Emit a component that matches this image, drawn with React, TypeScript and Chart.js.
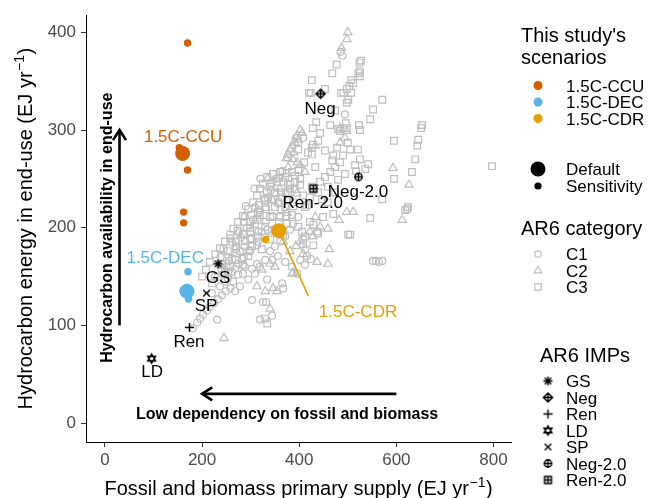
import React, { useEffect, useRef } from "react";
import { Chart, registerables } from "chart.js";

Chart.register(...registerables);

const FONT = '"Liberation Sans", Arial, Helvetica, sans-serif';
const GREY = "#BEBEBE";
const COL_CCU = "#D55E00";
const COL_DEC = "#56B4E9";
const COL_CDR = "#E69F00";

// Axes
const xTicks = [0, 200, 400, 600, 800];
const yTicks = [0, 100, 200, 300, 400];
const xRange = [-39, 836];
const yRange = [-19.3, 417.5];

// AR6 scenarios (x: fossil+biomass primary supply, y: hydrocarbon energy in end-use)
const c1: number[][] = [
  [181, 97], [190, 103], [196, 107], [202, 111], [210, 115], [216, 119], [225, 123], [233, 127], [241, 131], [249, 135],
  [258, 138], [231, 106], [253, 148], [264, 145], [274, 152], [284, 153], [303, 158], [288, 160], [313, 163], [334, 147],
  [365, 143], [367, 138], [344, 167], [303, 126], [325, 124], [332, 124], [319, 106], [344, 110], [412, 178], [416, 171],
  [412, 162], [424, 168], [552, 166], [558, 166], [564, 165], [571, 166], [485, 380], [489, 376], [494, 316], [247, 145],
  [262, 155], [274, 163], [286, 170], [299, 176], [237, 140], [220, 133], [268, 135], [278, 140], [295, 147], [309, 153],
  [319, 160], [330, 167], [340, 176], [350, 181], [361, 186], [371, 191], [381, 198], [387, 204], [398, 211], [315, 186],
  [323, 196], [299, 188], [356, 171], [371, 165], [385, 160], [402, 167], [396, 153], [309, 221], [288, 211], [398, 287],
  [393, 292], [408, 292], [255, 170], [270, 178], [280, 190], [292, 200], [305, 208], [318, 218], [330, 230], [342, 238],
  [262, 185], [276, 195], [290, 222], [352, 250], [365, 258], [345, 212], [358, 225], [372, 235], [382, 245], [308, 240],
  [320, 250], [335, 198], [226, 150], [240, 158], [250, 160], [242, 152], [256, 166], [271, 174], [287, 181], [302, 189],
  [316, 196], [331, 206], [346, 211], [361, 219], [376, 229], [392, 239], [238, 170], [268, 158], [283, 168], [297, 177],
  [313, 182],
];
const c2: number[][] = [
  [500, 400], [498, 393], [487, 384], [396, 294], [406, 297], [398, 290], [402, 300], [391, 287], [385, 284], [381, 280],
  [377, 275], [373, 271], [389, 277], [387, 270], [396, 267], [377, 262], [402, 264], [412, 257], [433, 284], [484, 287],
  [494, 292], [498, 299], [484, 302], [593, 261], [626, 244], [612, 208], [498, 216], [511, 216], [482, 208], [459, 199],
  [462, 178], [437, 165], [459, 163], [387, 154], [346, 138], [354, 135], [340, 117], [245, 87], [428, 191], [408, 173],
  [367, 186], [402, 186], [422, 196], [393, 181], [381, 176], [433, 211], [443, 201], [350, 160], [340, 163], [323, 157],
  [313, 140], [330, 135], [385, 153], [360, 240], [345, 228], [375, 215], [335, 250], [395, 235],
];
const c3: number[][] = [
  [477, 367], [468, 358], [524, 369], [527, 371], [522, 358], [525, 355], [426, 351], [453, 342], [507, 351], [511, 348],
  [503, 345], [498, 342], [491, 338], [486, 338], [507, 338], [501, 331], [498, 328], [571, 331], [552, 321], [546, 311],
  [420, 338], [424, 338], [474, 320], [496, 307], [491, 302], [498, 302], [480, 301], [464, 305], [428, 302], [523, 305],
  [525, 300], [484, 299], [525, 360], [428, 285], [453, 279], [478, 282], [470, 274], [505, 280], [500, 287], [521, 280],
  [525, 270], [542, 265], [536, 260], [517, 258], [595, 289], [645, 290], [643, 284], [639, 270], [632, 257], [653, 305],
  [651, 302], [595, 250], [624, 221], [618, 218], [622, 219], [797, 263], [546, 210], [501, 193], [505, 193], [490, 274],
  [515, 264], [571, 229], [426, 275], [433, 262], [468, 269], [408, 233], [416, 223], [447, 229], [459, 226], [474, 236],
  [449, 211], [470, 214], [422, 206], [429, 203], [437, 196], [439, 194], [412, 191], [408, 188], [402, 250], [402, 244],
  [408, 183], [429, 182], [330, 107], [334, 102], [346, 255], [334, 252], [325, 245], [319, 240], [313, 233], [305, 226],
  [295, 219], [284, 212], [274, 206], [264, 199], [258, 193], [247, 186], [237, 179], [227, 173], [216, 165], [208, 157],
  [200, 150], [367, 247], [381, 240], [387, 226], [385, 213], [375, 204], [367, 193], [377, 272], [398, 280], [361, 257],
  [371, 252], [354, 247], [340, 242], [350, 236], [365, 231], [336, 231], [330, 221], [350, 221], [371, 221], [319, 213],
  [340, 211], [361, 211], [309, 204], [330, 201], [350, 198], [299, 196], [315, 191], [340, 188], [288, 186], [303, 181],
  [323, 178], [278, 176], [295, 171], [268, 167], [284, 162], [258, 160], [247, 155], [262, 168], [233, 150], [220, 143],
  [241, 163], [253, 176], [270, 181], [286, 194], [299, 206], [315, 216], [328, 228], [356, 226], [377, 236], [391, 247],
  [385, 257], [398, 259], [410, 267], [418, 277], [426, 282], [439, 289], [443, 297], [435, 308], [443, 247], [453, 252],
  [464, 257], [474, 262], [484, 267], [439, 236], [422, 231], [459, 242], [480, 249], [494, 255], [426, 242], [412, 221],
  [398, 201], [406, 196], [241, 162], [244, 178], [254, 153], [258, 189], [269, 186], [273, 197], [284, 193], [286, 206],
  [299, 200], [301, 213], [314, 208], [317, 223], [329, 190], [332, 219], [333, 236], [344, 197], [347, 229], [343, 246],
  [358, 206], [362, 236], [359, 251], [373, 212], [377, 244], [374, 256], [388, 222], [391, 253],
];

// This study's scenarios
const ccuDefault = [[160, 276]];
const ccuSens = [[170, 389], [153, 282], [170, 259], [162, 216], [162, 205]];
const decDefault = [[169, 135]];
const decSens = [[171, 155], [161, 136], [172, 127]];
const cdrDefault = [[358, 197]];
const cdrSens = [[331, 188]];
const cdrLeader = [[358, 197], [419, 130]];

// Scenario labels
const noteText = ["1.5C-CCU", "1.5C-DEC", "1.5C-CDR"];
const noteX = [161, 124, 521];
const noteY = [294, 170, 115];
const noteColor = [COL_CCU, COL_DEC, COL_CDR];

// AR6 IMPs
const impNames = ["GS", "Neg", "Ren", "LD", "SP", "Neg-2.0", "Ren-2.0"];
const impShapes = ["asterisk", "diamondplus", "plus", "star", "cross", "circleplus", "squareplus"];
const impX = [233, 444, 174, 96, 209, 522, 429];
const impY = [163, 337, 98, 66, 133, 252, 240];
const impLabelX = [233, 443, 173, 97, 208, 521, 428];
const impLabelY = [150, 323, 84, 53, 121, 238, 226];

// Arrows and bold notes
const vArrowX = [30, 30];
const vArrowY = [100, 300];
const hArrowX = [600, 200];
const hArrowY = [30, 30];
const vNote = "Hydrocarbon availability in end-use";
const vNotePos = [3, 200];
const hNote = "Low dependency on fossil and biomass";
const hNotePos = [375, 10];

const xTitle = ["Fossil and biomass primary supply (EJ yr", "\u22121", ")"];
const yTitle = ["Hydrocarbon energy in end-use (EJ yr", "\u22121", ")"];

const scenLegend = ["1.5C-CCU", "1.5C-DEC", "1.5C-CDR"];
const catLegend = ["C1", "C2", "C3"];

function pts(a: number[][]) {
  return a.map((p) => ({ x: p[0], y: p[1] }));
}

function makeShape(kind: string): HTMLCanvasElement {
  const S = 13;
  const c = document.createElement("canvas");
  c.width = S;
  c.height = S;
  const g = c.getContext("2d")!;
  g.strokeStyle = "#000";
  g.lineWidth = 1.4;
  const m = S / 2;
  const r = 4.6;
  g.beginPath();
  if (kind === "asterisk") {
    for (let k = 0; k < 4; k++) {
      const a = (k * Math.PI) / 4;
      g.moveTo(m + r * Math.cos(a), m + r * Math.sin(a));
      g.lineTo(m - r * Math.cos(a), m - r * Math.sin(a));
    }
  } else if (kind === "plus") {
    g.moveTo(m - r, m);
    g.lineTo(m + r, m);
    g.moveTo(m, m - r);
    g.lineTo(m, m + r);
  } else if (kind === "cross") {
    const d = r * 0.72;
    g.moveTo(m - d, m - d);
    g.lineTo(m + d, m + d);
    g.moveTo(m - d, m + d);
    g.lineTo(m + d, m - d);
  } else if (kind === "diamondplus") {
    g.moveTo(m, m - r);
    g.lineTo(m + r, m);
    g.lineTo(m, m + r);
    g.lineTo(m - r, m);
    g.closePath();
    g.moveTo(m - r, m);
    g.lineTo(m + r, m);
    g.moveTo(m, m - r);
    g.lineTo(m, m + r);
  } else if (kind === "circleplus") {
    const q = r * 0.8;
    g.arc(m, m, q, 0, 2 * Math.PI);
    g.moveTo(m - q, m);
    g.lineTo(m + q, m);
    g.moveTo(m, m - q);
    g.lineTo(m, m + q);
  } else if (kind === "squareplus") {
    const q = r * 0.75;
    g.rect(m - q, m - q, 2 * q, 2 * q);
    g.moveTo(m - q, m);
    g.lineTo(m + q, m);
    g.moveTo(m, m - q);
    g.lineTo(m, m + q);
  } else if (kind === "star") {
    const h = r * 0.866;
    g.moveTo(m, m - r);
    g.lineTo(m + h, m + r * 0.5);
    g.lineTo(m - h, m + r * 0.5);
    g.closePath();
    g.moveTo(m, m + r);
    g.lineTo(m + h, m - r * 0.5);
    g.lineTo(m - h, m - r * 0.5);
    g.closePath();
  }
  g.stroke();
  return c;
}

function txt(
  ctx: CanvasRenderingContext2D,
  s: string,
  x: number,
  cy: number,
  size: number,
  color = "#000",
  align: CanvasTextAlign = "left",
  weight = ""
) {
  ctx.font = `${weight}${size}px ${FONT}`;
  ctx.fillStyle = color;
  ctx.textAlign = align;
  ctx.textBaseline = "alphabetic";
  ctx.fillText(s, x, cy + size * 0.36);
}

function supTitle(ctx: CanvasRenderingContext2D, parts: string[], cx: number, cy: number, rotate: boolean) {
  const big = `20px ${FONT}`;
  const small = `14px ${FONT}`;
  ctx.save();
  ctx.fillStyle = "#000";
  ctx.textBaseline = "alphabetic";
  ctx.textAlign = "left";
  ctx.font = big;
  const w1 = ctx.measureText(parts[0]).width;
  const w3 = ctx.measureText(parts[2]).width;
  ctx.font = small;
  const w2 = ctx.measureText(parts[1]).width;
  const total = w1 + w2 + w3 + 1;
  ctx.translate(cx, cy);
  if (rotate) ctx.rotate(-Math.PI / 2);
  const x0 = -total / 2;
  ctx.font = big;
  ctx.fillText(parts[0], x0, 7);
  ctx.font = small;
  ctx.fillText(parts[1], x0 + w1 + 0.5, -1);
  ctx.font = big;
  ctx.fillText(parts[2], x0 + w1 + w2 + 1, 7);
  ctx.restore();
}

function arrow(ctx: CanvasRenderingContext2D, x1: number, y1: number, x2: number, y2: number) {
  const a = Math.atan2(y2 - y1, x2 - x1);
  const L = 12;
  const sp = Math.PI / 5.5;
  ctx.beginPath();
  ctx.moveTo(x1, y1);
  ctx.lineTo(x2, y2);
  ctx.stroke();
  ctx.beginPath();
  ctx.moveTo(x2 - L * Math.cos(a - sp), y2 - L * Math.sin(a - sp));
  ctx.lineTo(x2, y2);
  ctx.lineTo(x2 - L * Math.cos(a + sp), y2 - L * Math.sin(a + sp));
  ctx.stroke();
}

export default function App() {
  const ref = useRef<HTMLCanvasElement>(null);

  useEffect(() => {
    const canvas = ref.current!;
    const shapes = impShapes.map((s) => makeShape(s));

    const overlay = {
      id: "overlay",
      afterDatasetsDraw(chart: any) {
        const ctx: CanvasRenderingContext2D = chart.ctx;
        const xs = chart.scales.x;
        const ys = chart.scales.y;
        const px = (v: number) => xs.getPixelForValue(v);
        const py = (v: number) => ys.getPixelForValue(v);
        ctx.save();
        ctx.strokeStyle = "#000";
        ctx.lineWidth = 2.6;
        ctx.lineCap = "butt";
        ctx.lineJoin = "miter";
        arrow(ctx, px(vArrowX[0]), py(vArrowY[0]), px(vArrowX[1]), py(vArrowY[1]));
        arrow(ctx, px(hArrowX[0]), py(hArrowY[0]), px(hArrowX[1]), py(hArrowY[1]));
        txt(ctx, hNote, px(hNotePos[0]), py(hNotePos[1]), 16, "#000", "center", "bold ");
        ctx.save();
        ctx.translate(px(vNotePos[0]), py(vNotePos[1]));
        ctx.rotate(-Math.PI / 2);
        txt(ctx, vNote, 0, 0, 16, "#000", "center", "bold ");
        ctx.restore();
        for (let i = 0; i < noteText.length; i++) {
          txt(ctx, noteText[i], px(noteX[i]), py(noteY[i]), 17, noteColor[i], "center");
        }
        for (let i = 0; i < impNames.length; i++) {
          txt(ctx, impNames[i], px(impLabelX[i]), py(impLabelY[i]), 17, "#000", "center");
        }
        ctx.restore();
      },
      afterDraw(chart: any) {
        const ctx: CanvasRenderingContext2D = chart.ctx;
        const area = chart.chartArea;
        ctx.save();
        supTitle(ctx, xTitle, (area.left + area.right) / 2, 488, false);
        supTitle(ctx, yTitle, 25, (area.top + area.bottom) / 2, true);

        const lx = 521;
        const kx = 538;
        const tx = 566;
        txt(ctx, "This study's", lx, 35, 20);
        txt(ctx, "scenarios", lx, 57, 20);
        const scY = [85.5, 102, 118.5];
        const scC = [COL_CCU, COL_DEC, COL_CDR];
        for (let i = 0; i < 3; i++) {
          ctx.fillStyle = scC[i];
          ctx.beginPath();
          ctx.arc(kx, scY[i], 4.5, 0, 2 * Math.PI);
          ctx.fill();
          txt(ctx, scenLegend[i], tx, scY[i], 17);
        }
        ctx.fillStyle = "#000";
        ctx.beginPath();
        ctx.arc(kx, 169, 7.5, 0, 2 * Math.PI);
        ctx.fill();
        txt(ctx, "Default", tx, 169, 17);
        ctx.beginPath();
        ctx.arc(kx, 186, 3.6, 0, 2 * Math.PI);
        ctx.fill();
        txt(ctx, "Sensitivity", tx, 186, 17);

        txt(ctx, "AR6 category", lx, 227.5, 20);
        const cY = [254, 270.5, 287];
        ctx.strokeStyle = GREY;
        ctx.lineWidth = 1.2;
        ctx.beginPath();
        ctx.arc(kx, cY[0], 3.2, 0, 2 * Math.PI);
        ctx.stroke();
        ctx.beginPath();
        ctx.moveTo(kx, cY[1] - 4.3);
        ctx.lineTo(kx + 3.8, cY[1] + 2.3);
        ctx.lineTo(kx - 3.8, cY[1] + 2.3);
        ctx.closePath();
        ctx.stroke();
        ctx.strokeRect(kx - 3.2, cY[2] - 3.2, 6.4, 6.4);
        for (let i = 0; i < 3; i++) txt(ctx, catLegend[i], tx, cY[i], 17);

        txt(ctx, "AR6 IMPs", 540, 355, 20);
        for (let i = 0; i < impNames.length; i++) {
          const y = 381 + i * 16.5;
          ctx.drawImage(shapes[i], 548 - 6.5, y - 6.5);
          txt(ctx, impNames[i], tx, y, 17);
        }
        ctx.restore();
      },
    };

    const grey = (data: number[][], style: string, r: number, label: string) => ({
      label,
      data: pts(data),
      pointStyle: style,
      pointRadius: r,
      borderColor: GREY,
      backgroundColor: "rgba(0,0,0,0)",
      borderWidth: 1.2,
      order: 10,
    });
    const dots = (data: number[][], color: string, r: number, label: string, order: number) => ({
      label,
      data: pts(data),
      pointStyle: "circle",
      pointRadius: r,
      backgroundColor: color,
      borderColor: color,
      borderWidth: 0,
      order,
    });

    const chart = new Chart(canvas, {
      type: "scatter",
      data: {
        datasets: [
          grey(c1, "circle", 3.5, "C1"),
          grey(c2, "triangle", 4.8, "C2"),
          grey(c3, "rect", 4.7, "C3"),
          {
            label: "leader",
            data: pts(cdrLeader),
            showLine: true,
            borderColor: COL_CDR,
            borderWidth: 1.6,
            pointRadius: 0,
            order: 7,
          } as any,
          dots(ccuSens, COL_CCU, 3.7, "CCU sens", 5),
          dots(decSens, COL_DEC, 3.7, "DEC sens", 5),
          dots(cdrSens, COL_CDR, 3.7, "CDR sens", 5),
          dots(ccuDefault, COL_CCU, 7.5, "CCU", 4),
          dots(decDefault, COL_DEC, 7.5, "DEC", 4),
          dots(cdrDefault, COL_CDR, 7.5, "CDR", 4),
          {
            label: "IMPs",
            data: impX.map((x, i) => ({ x, y: impY[i] })),
            pointStyle: shapes,
            pointRadius: 5,
            order: 1,
          } as any,
        ],
      },
      options: {
        responsive: false,
        animation: false,
        devicePixelRatio: 1,
        events: [],
        layout: { padding: { left: 0, right: 137, top: 12, bottom: 0 } },
        plugins: { legend: { display: false }, tooltip: { enabled: false } },
        scales: {
          x: {
            type: "linear",
            min: xRange[0],
            max: xRange[1],
            afterBuildTicks: (s: any) => {
              s.ticks = xTicks.map((v) => ({ value: v }));
            },
            afterFit: (s: any) => {
              s.height = 56;
            },
            grid: { drawOnChartArea: false, drawTicks: true, tickLength: 5, color: "#333333", lineWidth: 1 },
            border: { display: true, color: "#000", width: 1 },
            ticks: { font: { family: FONT, size: 17 }, color: "#4D4D4D", padding: 3, maxRotation: 0 },
          },
          y: {
            type: "linear",
            min: yRange[0],
            max: yRange[1],
            afterBuildTicks: (s: any) => {
              s.ticks = yTicks.map((v) => ({ value: v }));
            },
            afterFit: (s: any) => {
              s.width = 86;
            },
            grid: { drawOnChartArea: false, drawTicks: true, tickLength: 5, color: "#333333", lineWidth: 1 },
            border: { display: true, color: "#000", width: 1 },
            ticks: { font: { family: FONT, size: 17 }, color: "#4D4D4D", padding: 5 },
          },
        },
      } as any,
      plugins: [overlay],
    });
    return () => chart.destroy();
  }, []);

  return (
    <div style={{ position: "fixed", left: 0, top: 0, width: 648, height: 498, background: "#fff" }}>
      <canvas ref={ref} width={648} height={498} style={{ width: 648, height: 498, display: "block" }} />
    </div>
  );
}
